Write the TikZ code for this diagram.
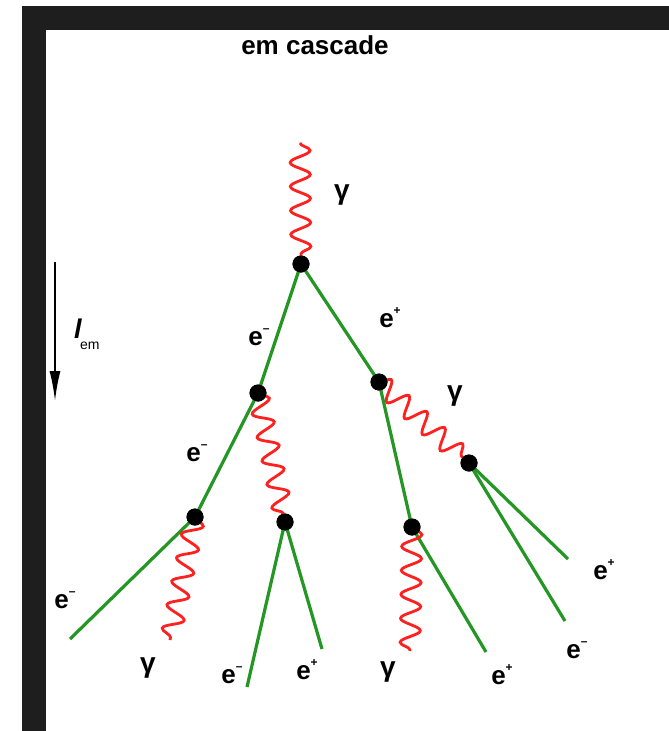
\documentclass[tikz,border=0pt]{standalone}
\usepackage{fontspec}
\setmainfont{Liberation Sans}
\usetikzlibrary{decorations.pathmorphing,arrows.meta}
\definecolor{band}{HTML}{1E1E1E}
\definecolor{lepcol}{RGB}{36,150,36}
\definecolor{photcol}{RGB}{255,32,32}
\newcommand\lept[1]{\textbf{e}\raisebox{0.5em}{\fontsize{12}{12}\selectfont\textbf{#1}}}
\begin{document}
\begin{tikzpicture}[x=1pt,y=-1pt,
  vtx/.style={circle,fill=black,inner sep=0pt,minimum size=17pt},
  lepline/.style={draw=lepcol,line width=3.2pt},
  photon/.style={draw=photcol,line width=2.8pt,decorate,
    decoration={snake,segment length=24pt,amplitude=10pt}},
  lbl/.style={font=\fontsize{26}{26}\selectfont,inner sep=0pt},
  glbl/.style={font=\fontsize{28}{28}\selectfont\bfseries,inner sep=0pt}]
\useasboundingbox (0,0) rectangle (669,731);
\fill[white] (0,0) rectangle (669,731);
\fill[band] (22,6) rectangle (669,30);
\fill[band] (22,6) rectangle (46,731);

% title
\node[font=\fontsize{26}{26}\selectfont\bfseries,inner sep=0pt] (title) at (315,45) {em cascade};

% length arrow
\coordinate (a1) at (55,262);
\coordinate (a2) at (55,401);
\draw[line width=2pt,-{Latex[length=30pt,width=11pt]}] (a1) -- (a2);
\node[inner sep=0pt,anchor=west] (lem) at (74,334) {\fontsize{27}{27}\selectfont\textbf{\textit{l}}\hspace{-2pt}\raisebox{-0.4em}{\fontsize{14}{14}\selectfont em}};

% vertices
\node[vtx] (v0) at (301,264) {};
\node[vtx] (v1) at (258,393) {};
\node[vtx] (v2) at (379,382) {};
\node[vtx] (v3) at (469,463) {};
\node[vtx] (v4) at (195,517) {};
\node[vtx] (v5) at (285,522) {};
\node[vtx] (v6) at (412,527) {};

% free ends
\coordinate (g0) at (300,143);
\coordinate (e1) at (70,639);
\coordinate (g4) at (170,640);
\coordinate (e2) at (247,687);
\coordinate (e3) at (322,649);
\coordinate (g6) at (410,651);
\coordinate (e4) at (486,652);
\coordinate (e5) at (565,621);
\coordinate (e6) at (568,559);

% lepton lines
\path[lepline] (v0.center) -- (v1.center);
\path[lepline] (v0.center) -- (v2.center);
\path[lepline] (v1.center) -- (v4.center);
\path[lepline] (v4.center) -- (e1);
\path[lepline] (v2.center) -- (v6.center);
\path[lepline] (v6.center) -- (e4);
\path[lepline] (v5.center) -- (e2);
\path[lepline] (v5.center) -- (e3);
\path[lepline] (v3.center) -- (e5);
\path[lepline] (v3.center) -- (e6);

% photons
\path[photon] (g0) -- (v0.center);
\path[photon] (v1.center) -- (v5.center);
\path[photon] (v2.center) -- (v3.center);
\path[photon] (v4.center) -- (g4);
\path[photon] (v6.center) -- (g6);

% redraw vertices on top
\foreach \v in {v0,v1,v2,v3,v4,v5,v6}{\fill (\v) circle (8.5pt);}

% labels
\node[glbl] (lg0) at (342,195) {γ};
\node[lbl] (l1) at (259,337) {\lept{–}};
\node[lbl] (l2) at (390,318) {\lept{+}};
\node[glbl] (lg2) at (455,396) {γ};
\node[lbl] (l3) at (197,453) {\lept{–}};
\node[lbl] (l4) at (65,600) {\lept{–}};
\node[glbl] (lg4) at (148,668) {γ};
\node[lbl] (l5) at (232,675) {\lept{–}};
\node[lbl] (l6) at (307,670) {\lept{+}};
\node[glbl] (lg6) at (388,672) {γ};
\node[lbl] (l7) at (502,675) {\lept{+}};
\node[lbl] (l8) at (577,650) {\lept{–}};
\node[lbl] (l9) at (604,570) {\lept{+}};
\end{tikzpicture}
\end{document}
